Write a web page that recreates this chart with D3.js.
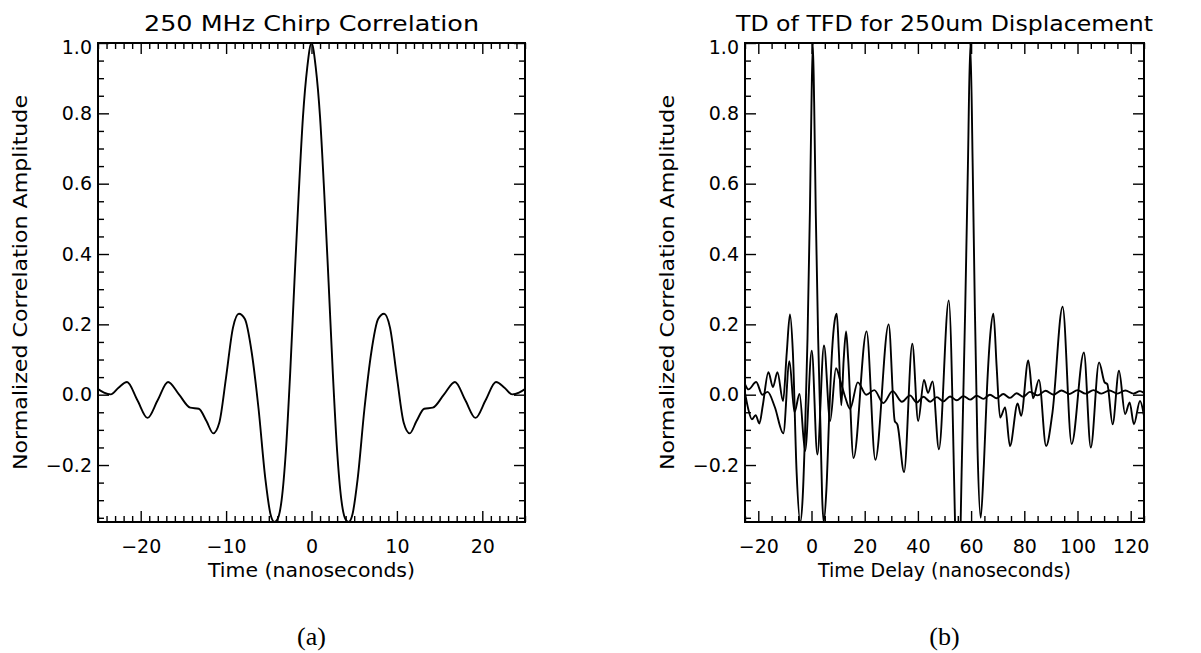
<!DOCTYPE html>
<html lang="en">
<head>
<meta charset="UTF-8">
<title>250 MHz Chirp Correlation / TD of TFD</title>
<script src="https://cdn.jsdelivr.net/npm/d3@7"></script>
<style>
  body { margin: 0; background: #fff; }
  svg { display: block; }
  text { font-family: "DejaVu Sans", sans-serif; fill: #000; }
  .caption { font-family: "Liberation Serif", serif; font-size: 26px; }
</style>
</head>
<body>
<svg id="chart" width="1201" height="653"></svg>
<script>
// (a) chirp autocorrelation
const chirpTime = [-25, -24.3, -23.5, -22.6, -21.6, -20.4, -19.2, -18, -16.8, -15.5,
  -14.2, -13.2, -12.3, -11.5, -10.8, -10, -9.2, -8.5, -7.8, -7,
  -6.2, -5.4, -4.8, -4.35, -4, -3.5, -3, -2.5, -2, -1.5, -1, -0.5,
  0,
  0.5, 1, 1.5, 2, 2.5, 3, 3.5, 4, 4.35, 4.8, 5.4, 6.2,
  7, 7.8, 8.5, 9.2, 10, 10.8, 11.5, 12.3, 13.2, 14.2,
  15.5, 16.8, 18, 19.2, 20.4, 21.6, 22.6, 23.5, 24.3, 25];
const chirpAmp = [0.016, 0.006, 0.001, 0.02, 0.036, -0.015, -0.066, -0.015, 0.036, 0.0,
  -0.037, -0.04, -0.075, -0.11, -0.08, 0.05, 0.19, 0.23, 0.215, 0.12,
  -0.04, -0.24, -0.34, -0.362, -0.355, -0.30, -0.16, 0.06, 0.32, 0.57, 0.79, 0.93,
  1.0,
  0.93, 0.79, 0.57, 0.32, 0.06, -0.16, -0.30, -0.355, -0.362, -0.34, -0.24, -0.04,
  0.12, 0.215, 0.23, 0.19, 0.05, -0.08, -0.11, -0.075, -0.04, -0.037,
  0.0, 0.036, -0.015, -0.066, -0.015, 0.036, 0.02, 0.001, 0.006, 0.016];

// (b) time-domain of TFD: displaced-target trace
const delayTime = [-25, -23.8, -22.4, -21.0, -19.6, -18.3, -16.2, -14.5, -12.8, -10.7,
  -9.3, -8.1, -7.0, -5.6, -4.2, -3.3, -2.4, -1.5, -0.6, 0.0,
  0.5, 1.0, 1.6, 2.5, 3.4, 4.0, 4.6, 5.6, 6.7, 7.7,
  8.7, 9.5, 10.3, 11.2, 12.1, 13.0, 13.8, 15.8, 20.7, 24.0,
  29.0, 31.3, 32.3, 34.8, 37.9, 40.1, 42.3, 43.8, 45.5, 47.9,
  51.6, 55.2, 56.5, 57.8, 58.8, 59.7, 60.6, 61.4, 62.4, 63.6,
  64.8, 66.0, 67.2, 68.4, 69.6, 70.9, 72.8, 74.6, 77.5, 78.8,
  81.5, 83.3, 85.5, 88.2, 90.6, 94.4, 97.8, 102.4, 105.0, 108.1,
  110.2, 111.2, 113.2, 115.6, 117.9, 119.6, 121.2, 123.5, 125.0];
const tfdAmp = [0.005, -0.04, -0.07, -0.058, -0.082, -0.03, 0.064, 0.022, 0.064, -0.018,
  0.12, 0.228, 0.12, -0.22, -0.362, -0.29, -0.1, 0.16, 0.52, 0.83,
  1.0, 0.83, 0.52, 0.16, -0.1, -0.29, -0.362, -0.27, -0.05, 0.12,
  0.21, 0.23, 0.12, -0.03, 0.1, 0.18, 0.1, -0.18, 0.18, -0.185,
  0.2, -0.075, -0.085, -0.22, 0.145, -0.075, 0.042, 0.005, 0.038, -0.155,
  0.268, -0.6, -0.2, 0.25, 0.65, 1.0, 0.65, 0.25, -0.15, -0.35,
  -0.2, 0.02, 0.17, 0.23, 0.08, -0.065, -0.036, -0.146, -0.025, -0.06,
  0.097, -0.01, 0.042, -0.146, -0.05, 0.25, -0.14, 0.12, -0.15, 0.092,
  0.035, 0.03, -0.084, 0.068, -0.055, -0.022, -0.084, -0.018, -0.06];

// (b) second, small residual trace
const residTime = [-25, -23.7, -20.8, -18.5, -16.5, -13.8, -10.6, -8.3, -6.4, -4.5,
  -2.4, 0.1, 2.2, 4.7, 7.0, 9.2, 11.0, 12.6, 14.5, 17.4,
  20.6, 23.6, 27.0, 30.5, 34.0, 37.0, 39.6, 42.1, 44.6, 47.1,
  49.6, 52.1, 54.6, 57.1, 59.6, 62.1, 64.6, 67.1, 69.6, 72.1,
  74.6, 77.1, 79.6, 82.1, 85.0, 88.0, 91.0, 94.0, 97.0, 100.0,
  103.0, 106.0, 109.0, 112.0, 115.0, 118.0, 121.0, 123.5, 125.0];
const residAmp = [0.03, 0.015, 0.036, 0.0, 0.008, -0.035, -0.11, 0.095, -0.05, 0.002,
  -0.16, 0.125, -0.17, 0.14, -0.075, 0.075, 0.035, -0.005, -0.04, 0.035,
  0.0, 0.013, -0.024, 0.01, -0.02, -0.002, -0.022, -0.006, -0.02, -0.007,
  -0.019, -0.005, -0.016, -0.004, -0.014, -0.003, -0.012, 0.0, -0.01, 0.002,
  -0.009, 0.004, -0.006, 0.008, -0.002, 0.011, 0.0, 0.012, 0.002, 0.013,
  0.003, 0.013, 0.003, 0.012, 0.003, 0.012, 0.003, 0.01, 0.005];

// tick labels
const chirpTicks = [-20, -10, 0, 10, 20];
const delayTicks = [-20, 0, 20, 40, 60, 80, 100, 120];
const ampTicks = [-0.2, 0.0, 0.2, 0.4, 0.6, 0.8, 1.0];

const yDomain = [-0.362, 1.0];
const yLabel = "Normalized Correlation Amplitude";

const panels = [
  {
    key: "a", left: 98, right: 525, top: 43, bottom: 522,
    xDomain: [-25, 25], xTicks: chirpTicks, xMinor: 1,
    title: "250 MHz Chirp Correlation", titleLen: 335,
    xLabel: "Time (nanoseconds)", xLabelLen: 207,
    series: [[chirpTime, chirpAmp]]
  },
  {
    key: "b", left: 745, right: 1144, top: 43, bottom: 522,
    xDomain: [-25, 125], xTicks: delayTicks, xMinor: 5,
    title: "TD of TFD for 250um Displacement", titleLen: 417,
    xLabel: "Time Delay (nanoseconds)", xLabelLen: 253,
    series: [[residTime, residAmp], [delayTime, tfdAmp]]
  }
];

const svg = d3.select("#chart");
svg.append("rect").attr("width", 1201).attr("height", 653).attr("fill", "#fff");

function styleAxis(g) {
  g.select(".domain").remove();
  g.attr("font-family", '"DejaVu Sans", sans-serif').attr("font-size", 19);
  g.selectAll("line").attr("stroke", "#000").attr("stroke-width", 1.4);
  g.selectAll("text").attr("fill", "#000");
  return g;
}

panels.forEach(p => {
  const x = d3.scaleLinear().domain(p.xDomain).range([p.left, p.right]);
  const y = d3.scaleLinear().domain(yDomain).range([p.bottom, p.top]);
  const g = svg.append("g");

  // minor tick positions
  const xMinor = d3.range(p.xDomain[0], p.xDomain[1] + 0.001, p.xMinor)
    .filter(v => !p.xTicks.includes(v));
  const yMinor = d3.range(-7, 21).filter(k => k % 4 !== 0).map(k => +(k * 0.05).toFixed(2));

  // major axes
  styleAxis(g.append("g").attr("transform", `translate(0,${p.bottom})`)
    .call(d3.axisBottom(x).tickValues(p.xTicks).tickSize(-11).tickPadding(18).tickFormat(d3.format("d"))));
  styleAxis(g.append("g").attr("transform", `translate(0,${p.top})`)
    .call(d3.axisTop(x).tickValues(p.xTicks).tickSize(-11).tickFormat("")));
  const yl = styleAxis(g.append("g").attr("transform", `translate(${p.left},0)`)
    .call(d3.axisLeft(y).tickValues(ampTicks).tickSize(-11).tickPadding(6).tickFormat(d3.format(".1f"))));
  // top label sits just inside the frame, as in the original
  yl.selectAll(".tick").filter(d => d === 1).select("text").attr("dy", "0.55em");
  styleAxis(g.append("g").attr("transform", `translate(${p.right},0)`)
    .call(d3.axisRight(y).tickValues(ampTicks).tickSize(-11).tickFormat("")));

  // minor axes
  styleAxis(g.append("g").attr("transform", `translate(0,${p.bottom})`)
    .call(d3.axisBottom(x).tickValues(xMinor).tickSize(-6).tickFormat("")));
  styleAxis(g.append("g").attr("transform", `translate(0,${p.top})`)
    .call(d3.axisTop(x).tickValues(xMinor).tickSize(-6).tickFormat("")));
  styleAxis(g.append("g").attr("transform", `translate(${p.left},0)`)
    .call(d3.axisLeft(y).tickValues(yMinor).tickSize(-6).tickFormat("")));
  styleAxis(g.append("g").attr("transform", `translate(${p.right},0)`)
    .call(d3.axisRight(y).tickValues(yMinor).tickSize(-6).tickFormat("")));

  // curves, clipped to the frame
  svg.append("clipPath").attr("id", "clip-" + p.key)
    .append("rect").attr("x", p.left).attr("y", p.top)
    .attr("width", p.right - p.left).attr("height", p.bottom - p.top);

  const line = d3.line()
    .x(d => x(d[0])).y(d => y(d[1]))
    .curve(d3.curveMonotoneX);

  p.series.forEach(([xs, ys]) => {
    g.append("path")
      .datum(xs.map((v, i) => [v, ys[i]]))
      .attr("clip-path", `url(#clip-${p.key})`)
      .attr("fill", "none")
      .attr("stroke", "#000")
      .attr("stroke-width", 1.9)
      .attr("stroke-linejoin", "round")
      .attr("d", line);
  });

  // frame
  g.append("rect")
    .attr("x", p.left).attr("y", p.top)
    .attr("width", p.right - p.left).attr("height", p.bottom - p.top)
    .attr("fill", "none").attr("stroke", "#000").attr("stroke-width", 2);

  const cx = (p.left + p.right) / 2;
  const cy = (p.top + p.bottom) / 2;

  g.append("text")
    .attr("x", cx).attr("y", 31)
    .attr("text-anchor", "middle").attr("font-size", 21)
    .attr("textLength", p.titleLen).attr("lengthAdjust", "spacingAndGlyphs")
    .text(p.title);

  g.append("text")
    .attr("x", cx).attr("y", 577)
    .attr("text-anchor", "middle").attr("font-size", 19)
    .attr("textLength", p.xLabelLen).attr("lengthAdjust", "spacingAndGlyphs")
    .text(p.xLabel);

  g.append("text")
    .attr("transform", `translate(${p.left - 71},${cy}) rotate(-90)`)
    .attr("text-anchor", "middle").attr("font-size", 19)
    .attr("textLength", 375).attr("lengthAdjust", "spacingAndGlyphs")
    .text(yLabel);

  g.append("text")
    .attr("class", "caption")
    .attr("x", cx).attr("y", 645)
    .attr("text-anchor", "middle")
    .text("(" + p.key + ")");
});
</script>
</body>
</html>
